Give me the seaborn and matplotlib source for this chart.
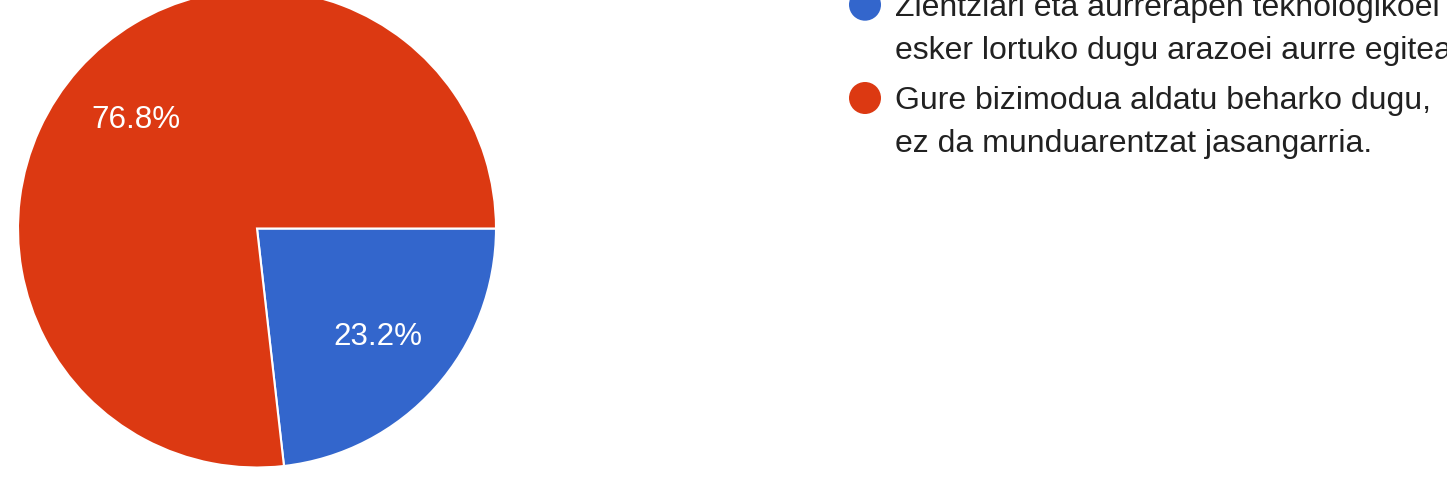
import matplotlib
matplotlib.use("Agg")
import matplotlib.pyplot as plt
import seaborn as sns
from matplotlib.patches import Circle

categories = [
    "Zientziari eta aurrerapen teknologikoei\nesker lortuko dugu arazoei aurre egitea.",
    "Gure bizimodua aldatu beharko dugu,\nez da munduarentzat jasangarria.",
]
values = [23.2, 76.8]
colors = ["#3366CC", "#DC3912"]

sns.set_theme(style="white")
plt.rcParams["font.family"] = ["Liberation Sans", "DejaVu Sans"]

W, H = 1447, 483
fig = plt.figure(figsize=(W / 100, H / 100), dpi=100)
fig.patch.set_facecolor("white")

cx, cy, r = 257, 228.5, 239
ax = fig.add_axes([(cx - r) / W, (H - cy - r) / H, 2 * r / W, 2 * r / H])
wedges, texts, autotexts = ax.pie(
    values,
    colors=colors,
    startangle=0,
    counterclock=False,
    autopct="%1.1f%%",
    pctdistance=0.68,
    wedgeprops=dict(edgecolor="white", linewidth=1.5),
    textprops=dict(color="white", fontsize=22.6),
)
ax.set_aspect("equal")
ax.set_xlim(-1, 1)
ax.set_ylim(-1, 1)
ax.axis("off")

# legend
circ_x = 865
circ_ys = [4.7, 98]
text_x = 895
baselines = [[16, 59], [109.3, 152]]
for lab, col, cyy, bl in zip(categories, colors, circ_ys, baselines):
    c = Circle((circ_x, H - cyy), 16, transform=None, facecolor=col, edgecolor="none")
    fig.patches.append(c)
    for line, b in zip(lab.split("\n"), bl):
        fig.text(text_x / W, 1 - b / H, line, fontsize=23, color="#212121",
                 va="baseline", ha="left")

fig.savefig("out.png", dpi=100, facecolor="white")
